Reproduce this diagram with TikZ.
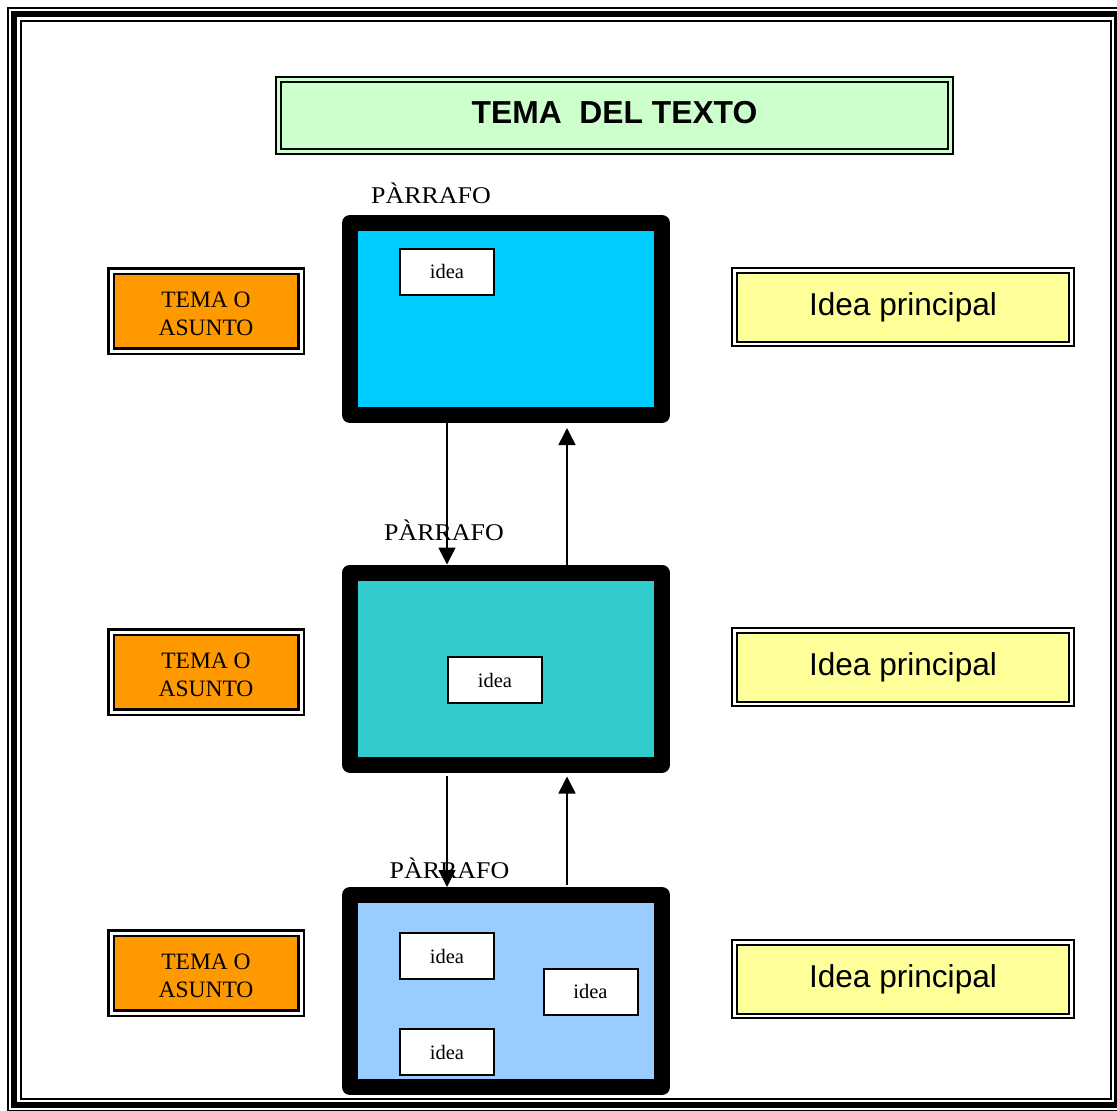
\documentclass[tikz,border=0pt]{standalone}
\usepackage{fontspec}
\setmainfont{Liberation Serif}
\newfontfamily\arial{Liberation Sans}
\newfontfamily\tnrwide[FakeStretch=1.08]{Liberation Serif}
\usetikzlibrary{arrows.meta,calc}
\definecolor{titlegreen}{HTML}{CCFFCC}
\definecolor{orangebox}{HTML}{FF9900}
\definecolor{yellowbox}{HTML}{FFFF99}
\definecolor{paraone}{HTML}{00CCFF}
\definecolor{paratwo}{HTML}{33CCCC}
\definecolor{parathree}{HTML}{99CCFF}
\newcommand{\temaasunto}{\raisebox{0pt}[10pt][18pt]{\begin{tabular}[t]{@{}c@{}}TEMA O\\ASUNTO\end{tabular}}}
\begin{document}
\begin{tikzpicture}[x=1pt,y=-1pt,
  titlebox/.style={draw, line width=2pt, double=titlegreen, double distance=3pt, fill=titlegreen,
    minimum width=672pt, minimum height=72pt, inner sep=0pt,
    font=\arial\bfseries\fontsize{31.8}{36}\selectfont, text height=22.5pt, text depth=7pt},
  temabox/.style={draw, line width=2.5pt, double=white, double distance=3pt, fill=orangebox,
    minimum width=190pt, minimum height=80pt, inner sep=0pt,
    font=\fontsize{23.5}{28}\selectfont},
  ideabox/.style={draw, line width=2pt, double=white, double distance=2.5pt, fill=yellowbox,
    minimum width=337pt, minimum height=73.5pt, inner sep=0pt,
    font=\arial\fontsize{31.6}{36}\selectfont},
  parabox/.style={draw, line width=16pt, line join=round, minimum width=312pt, minimum height=192pt, inner sep=0pt},
  smallidea/.style={draw, fill=white, line width=2pt, minimum width=94pt, minimum height=46pt, inner sep=0pt,
    font=\fontsize{20.5}{24}\selectfont},
  paralabel/.style={anchor=base, inner sep=0pt, font=\tnrwide\fontsize{24}{28}\selectfont},
  flow/.style={line width=1.5pt, -{Triangle[width=17pt,length=17pt]}}
]
\useasboundingbox (0,0) rectangle (1117,1111);
% page frame
\begin{scope}
\clip (0,0) rectangle (1117,1111);
\draw[line width=2pt] (7.8,7.8) rectangle (1123,1111);
\draw[line width=6pt] (14,14) rectangle (1116.5,1104.5);
\draw[line width=2pt] (21,21) rectangle (1110.5,1098.5);
\end{scope}

% title
\node[titlebox] (title) at (614.5,115.5) {TEMA~~DEL TEXTO};

% paragraph boxes
\node[parabox, fill=paraone] (p1) at (506,319) {};
\node[parabox, fill=paratwo] (p2) at (506,668.5) {};
\node[parabox, fill=parathree] (p3) at (506,991) {};

% labels
\node[paralabel] (l1) at (431,203) {PÀRRAFO};
\node[paralabel] (l2) at (444,540) {PÀRRAFO};
\node[paralabel] (l3) at (449.5,878) {PÀRRAFO};

% small idea boxes
\node[smallidea] (i1) at (447,271.5) {idea};
\node[smallidea] (i2) at (495,680) {idea};
\node[smallidea] (i3a) at (447,956) {idea};
\node[smallidea] (i3b) at (590.5,991.5) {idea};
\node[smallidea] (i3c) at (447,1052) {idea};

% tema boxes
\node[temabox] (t1) at (206,311) {\temaasunto};
\node[temabox] (t2) at (206,672) {\temaasunto};
\node[temabox] (t3) at (206,973) {\temaasunto};

% idea principal boxes
\node[ideabox] (y1) at (903,307.25) {Idea principal};
\node[ideabox] (y2) at (903,667.25) {Idea principal};
\node[ideabox] (y3) at (903,979) {Idea principal};

% arrows
\coordinate (cl) at (447,0);
\coordinate (cr) at (567,0);
\draw[flow] (p1.south -| cl) -- (p2.north -| cl);
\draw[flow] (p2.north -| cr) -- ($(p1.south -| cr)+(0,5)$);
\draw[flow] ($(p2.south -| cl)+(0,3)$) -- (p3.north -| cl);
\draw[flow] ($(p3.north -| cr)+(0,-2)$) -- ($(p2.south -| cr)+(0,4)$);
\end{tikzpicture}
\end{document}
